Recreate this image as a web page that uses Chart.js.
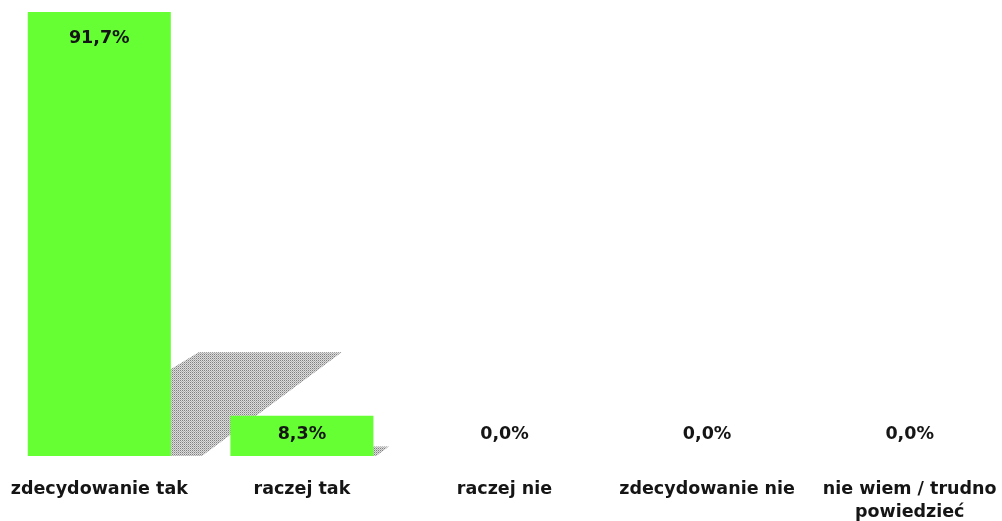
<!DOCTYPE html>
<html>
<head>
<meta charset="utf-8">
<script src="https://cdn.jsdelivr.net/npm/chart.js@4/dist/chart.umd.min.js"></script>
<style>
  html, body { margin: 0; padding: 0; background: #fff; overflow: hidden; }
  #wrap { position: absolute; left: -2px; top: 0; width: 1013px; height: 521px; }
</style>
</head>
<body>
<div id="wrap"><canvas id="wykres"></canvas></div>
<script>
const kategorie = [
  "zdecydowanie tak",
  "raczej tak",
  "raczej nie",
  "zdecydowanie nie",
  ["nie wiem / trudno", "powiedzieć"]
];
const wartosci = [91.7, 8.3, 0.0, 0.0, 0.0];

const zielony = "#66ff33";
const czcionka = "'DejaVu Sans', sans-serif";

// kropkowany cien za slupkami
const wzor = (() => {
  const c = document.createElement("canvas");
  c.width = 2; c.height = 2;
  const g = c.getContext("2d");
  g.fillStyle = "#dcdcdc"; g.fillRect(0, 0, 2, 2);
  g.fillStyle = "#808080"; g.fillRect(0, 0, 1, 1);
  g.fillStyle = "#b0b0b0"; g.fillRect(1, 1, 1, 1);
  return g.createPattern(c, "repeat");
})();

const cien = {
  id: "cien",
  beforeDatasetsDraw(chart) {
    const ctx = chart.ctx;
    chart.getDatasetMeta(0).data.forEach(el => {
      const h = el.base - el.y;
      if (h < 1) return;
      const L = el.x - el.width / 2, R = el.x + el.width / 2, B = el.base;
      const dx = 0.385 * h, dy = 0.234 * h;
      ctx.save();
      ctx.fillStyle = wzor;
      ctx.beginPath();
      ctx.moveTo(L, B);
      ctx.lineTo(L + dx, B - dy);
      ctx.lineTo(R + dx, B - dy);
      ctx.lineTo(R + 0.07 * h, B);
      ctx.closePath();
      ctx.fill();
      ctx.restore();
    });
  }
};

const etykiety = {
  id: "etykiety",
  afterDatasetsDraw(chart) {
    const ctx = chart.ctx;
    chart.getDatasetMeta(0).data.forEach((el, i) => {
      const v = wartosci[i];
      const y = Math.min(el.y + 26, el.base - 22);
      ctx.save();
      ctx.fillStyle = "#151515";
      ctx.textAlign = "center";
      ctx.textBaseline = "middle";
      ctx.font = "bold 17.5px " + czcionka;
      ctx.fillText(v.toFixed(1).replace(".", ",") + "%", el.x, y);
      ctx.restore();
    });
  }
};

new Chart(document.getElementById("wykres"), {
  type: "bar",
  data: {
    labels: kategorie,
    datasets: [{
      data: wartosci,
      backgroundColor: zielony,
      borderWidth: 0,
      barPercentage: 0.706,
      categoryPercentage: 1
    }]
  },
  options: {
    responsive: true,
    maintainAspectRatio: false,
    animation: false,
    layout: { padding: 0 },
    plugins: { legend: { display: false }, tooltip: { enabled: false } },
    scales: {
      x: {
        grid: { display: false, drawTicks: false },
        border: { display: false },
        afterFit: s => {
          s.height = 65;
          s.paddingLeft = 0;
          s.paddingRight = 0;
        },
        ticks: {
          padding: 22,
          color: "#151515",
          maxRotation: 0,
          autoSkip: false,
          font: { family: czcionka, size: 17.5, weight: "bold", lineHeight: "23px" }
        }
      },
      y: {
        display: false,
        min: 0,
        max: 94.2
      }
    }
  },
  plugins: [cien, etykiety]
});
</script>
</body>
</html>
